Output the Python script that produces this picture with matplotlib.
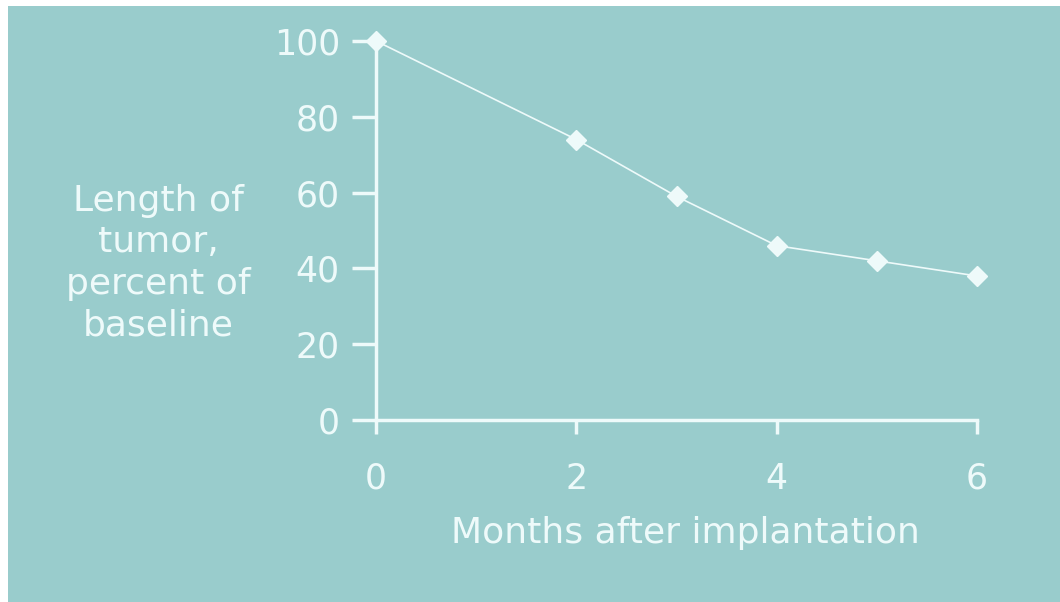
import matplotlib
matplotlib.use("Agg")
import matplotlib.pyplot as plt
from matplotlib.patches import Rectangle

months = [0, 2, 3, 4, 5, 6]
length_pct = [100, 74, 59, 46, 42, 38]
x_ticks = [0, 2, 4, 6]
y_ticks = [0, 20, 40, 60, 80, 100]

plt.rcParams['font.family'] = ['DejaVu Sans']
teal = '#99cccc'
fg = '#eefafa'

W, H = 1060, 602
fig = plt.figure(figsize=(W/100, H/100), dpi=100, facecolor='white')
fig.patches.append(Rectangle((8/W, 0), 1 - 8/W, 1 - 6/H, transform=fig.transFigure,
                             facecolor=teal, edgecolor='none', zorder=-5))

ax = fig.add_axes([376/W, (H-420)/H, (977-376)/W, (420-41)/H])
ax.set_zorder(2)
ax.set_facecolor('none')
ax.plot(months, length_pct, color=fg, lw=1.2, marker='D', ms=10, mfc=fg, mec=fg,
        clip_on=False, zorder=3)
ax.set_xlim(0, 6)
ax.set_ylim(0, 100)
ax.set_xticks(x_ticks)
ax.set_yticks(y_ticks)
for s in ['top', 'right']:
    ax.spines[s].set_visible(False)
for s in ['left', 'bottom']:
    ax.spines[s].set_color(fg)
    ax.spines[s].set_linewidth(2.5)
ax.tick_params(colors=fg, width=2.5, labelsize=25)
ax.tick_params(axis='y', length=17, pad=9)
ax.tick_params(axis='x', length=10, pad=20)
fig.text(685/W, 1 - 533/H, 'Months after implantation', color=fg, fontsize=26,
         ha='center', va='center')
fig.text(158/W, 1 - 263/H, 'Length of\ntumor,\npercent of\nbaseline', color=fg, fontsize=26,
         ha='center', va='center', linespacing=1.28)

fig.savefig('out.png', dpi=100, facecolor='white')
